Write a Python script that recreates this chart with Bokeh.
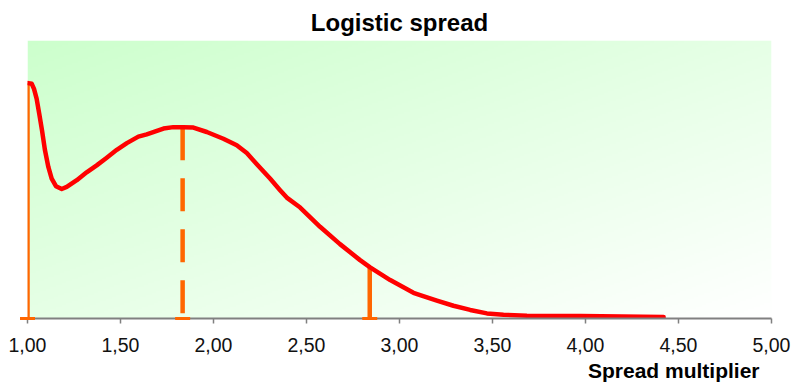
import numpy as np
from bokeh.plotting import figure
from bokeh.models import FixedTicker, Title, Range1d
from bokeh.embed import file_html
from bokeh.resources import INLINE

# Density curve of the spread multiplier
spread = [1.004, 1.023, 1.035, 1.049, 1.063, 1.078, 1.094, 1.112, 1.130, 1.153,
          1.184, 1.211, 1.265, 1.318, 1.372, 1.426, 1.480, 1.534, 1.596, 1.641,
          1.731, 1.784, 1.838, 1.892, 1.964, 2.053, 2.125, 2.179, 2.233, 2.304,
          2.358, 2.394, 2.466, 2.573, 2.680, 2.788, 2.842, 2.950, 3.075, 3.111,
          3.201, 3.290, 3.380, 3.470, 3.559, 3.685, 3.972, 4.420]
density = [1.016, 1.013, 0.991, 0.949, 0.884, 0.812, 0.726, 0.654, 0.604, 0.571,
           0.559, 0.568, 0.597, 0.631, 0.661, 0.694, 0.728, 0.757, 0.785, 0.795,
           0.820, 0.826, 0.826, 0.824, 0.805, 0.776, 0.748, 0.714, 0.666, 0.604,
           0.554, 0.522, 0.479, 0.396, 0.321, 0.252, 0.221, 0.166, 0.111, 0.101,
           0.077, 0.055, 0.037, 0.022, 0.016, 0.012, 0.011, 0.006]

# Reference markers: lower bound and upper quantile (solid), mode (dashed)
solid_marks = [1.00, 2.84]
dashed_marks = [1.834]

tick_values = [1.0, 1.5, 2.0, 2.5, 3.0, 3.5, 4.0, 4.5, 5.0]
tick_labels = ["1,00", "1,50", "2,00", "2,50", "3,00", "3,50", "4,00", "4,50", "5,00"]

x_start, x_end = 1.0, 5.0
y_start, y_end = 0.0, 1.2

FONT = "Liberation Sans"
ORANGE = "#ff6600"

p = figure(width=793, height=391, output_backend="svg", toolbar_location=None,
           x_range=Range1d(x_start, x_end), y_range=Range1d(y_start, y_end),
           min_border_left=27, min_border_right=22, min_border_top=40,
           min_border_bottom=73)
p.outline_line_color = None
p.grid.visible = False
p.yaxis.visible = False
p.background_fill_color = "white"
p.border_fill_color = "white"

# Diagonal pale-green wash behind the plot area
ny, nx = 140, 372
u = np.linspace(0.0, 1.0, nx)[None, :]
v = np.linspace(0.0, 1.0, ny)[:, None]
t = (u + (1.0 - v)) / 2.0
img = np.empty((ny, nx), dtype=np.uint32)
px = img.view(dtype=np.uint8).reshape((ny, nx, 4))
px[:, :, 0] = np.round(204 + 51 * t).astype(np.uint8)
px[:, :, 1] = 255
px[:, :, 2] = np.round(204 + 51 * t).astype(np.uint8)
px[:, :, 3] = 255
p.image_rgba(image=[img], x=x_start, y=y_start, dw=x_end - x_start,
             dh=y_end - y_start, level="image")

# Vertical marker lines up to the curve
solid_h = list(np.interp(solid_marks, [1.0] + spread, [density[0]] + density))
dashed_h = list(np.interp(dashed_marks, spread, density))
p.segment(x0=solid_marks, y0=[0] * len(solid_marks), x1=solid_marks, y1=solid_h,
          line_color=ORANGE, line_width=4.5)
p.segment(x0=dashed_marks, y0=dashed_h, x1=dashed_marks, y1=[0] * len(dashed_marks),
          line_color=ORANGE, line_width=4.5, line_dash="33 18")
all_marks = solid_marks + dashed_marks
p.scatter(x=all_marks, y=[0] * len(all_marks), marker="dash", size=15,
          line_color=ORANGE, line_width=3, level="overlay")

# Density curve
p.line(spread, density, line_color="#ff0000", line_width=4.5,
       line_join="round", line_cap="round")

ax = p.xaxis[0]
ax.ticker = FixedTicker(ticks=tick_values)
ax.major_label_overrides = {tv: tl for tv, tl in zip(tick_values, tick_labels)}
ax.axis_line_color = "#808080"
ax.axis_line_width = 2
ax.major_tick_line_color = "#808080"
ax.major_tick_line_width = 1.5
ax.major_tick_in = 0
ax.major_tick_out = 5
ax.minor_tick_line_color = None
ax.major_label_text_font = FONT
ax.major_label_text_font_size = "19.5px"
ax.major_label_text_color = "#111111"
ax.major_label_standoff = 14

p.title.text = "Logistic spread"
p.title.align = "center"
p.title.text_font = FONT
p.title.text_font_size = "24px"
p.title.text_font_style = "bold"
p.title.text_color = "#000000"

p.add_layout(Title(text="Spread multiplier", align="right", text_font=FONT,
                   text_font_size="21px", text_font_style="bold",
                   text_color="#000000", offset=12, standoff=4), "below")

open("out.html", "w").write(file_html(p, INLINE))
